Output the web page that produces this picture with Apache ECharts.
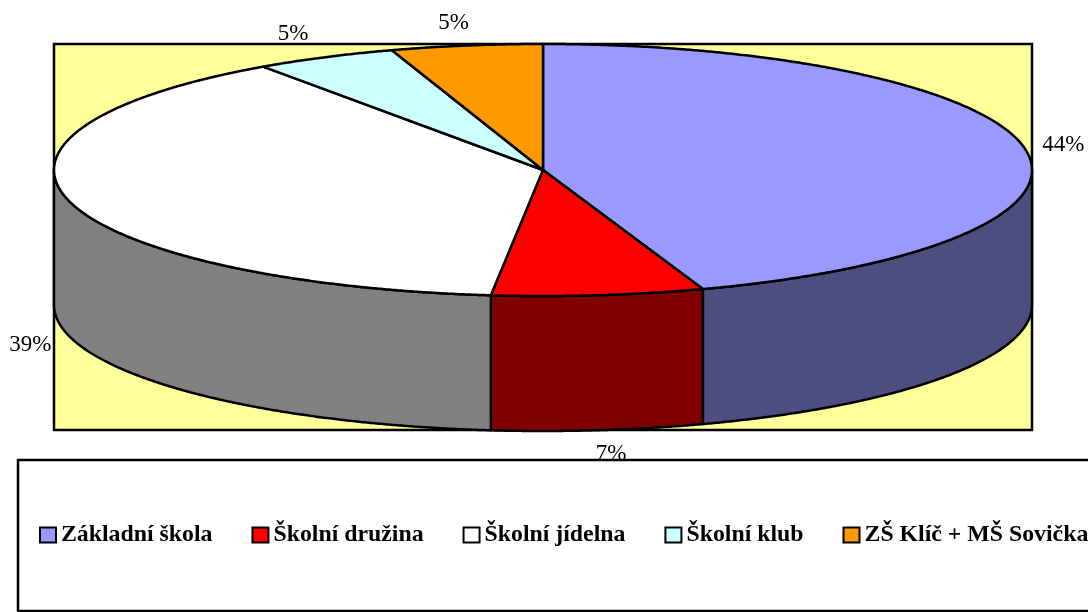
<!DOCTYPE html>
<html>
<head>
<meta charset="utf-8">
<style>html,body{margin:0;padding:0;background:#fff}#c{width:1088px;height:612px}</style>
<script src="https://cdn.jsdelivr.net/npm/echarts@6/dist/echarts.min.js"></script>
</head>
<body>
<div id="c"></div>
<script>
const names = ['Základní škola', 'Školní družina', 'Školní jídelna', 'Školní klub', 'ZŠ Klíč + MŠ Sovička'];
const values = [44.7, 7.0, 38.6, 4.7, 5.0];
const labels = ['44%', '7%', '39%', '5%', '5%'];
const topColors = ['#9999FF', '#FF0000', '#FFFFFF', '#CCFFFF', '#FF9900'];
const sideColors = ['#4D4D80', '#800000', '#808080', '#668080', '#804D00'];
// label offset from the rim point of each slice
const labelNudge = [[38, -4], [13, 24], [-39, 9], [-32, -23], [-13, -23]];

const cx = 543, cy = 170, rx = 489, ry = 126, depth = 135;
const total = values.reduce((a, b) => a + b, 0);

function rim(deg, dy){
  const t = deg * Math.PI / 180;
  return [cx + rx * Math.sin(t), cy - ry * Math.cos(t) + (dy || 0)];
}
function arc(a, b, dy){
  const pts = [];
  for (let d = a; d < b; d += 0.25) pts.push(rim(d, dy));
  pts.push(rim(b, dy));
  return pts;
}

function renderSlice(i){
  return function(params, api){
    const start = values.slice(0, i).reduce((a, b) => a + b, 0) / total * 360;
    const end = start + api.value(0) / total * 360;
    const mid = (start + end) / 2;
    const kids = [];
    const a = Math.max(start, 90), b = Math.min(end, 270);
    if (b > a) {
      kids.push({
        type: 'polygon', z2: 1,
        shape: { points: arc(a, b, 0).concat(arc(a, b, depth).reverse()) },
        style: { fill: sideColors[i], stroke: '#000', lineWidth: 2.5, lineJoin: 'round' }
      });
    }
    kids.push({
      type: 'polygon', z2: 2,
      shape: { points: [[cx, cy]].concat(arc(start, end, 0)) },
      style: { fill: topColors[i], stroke: '#000', lineWidth: 2.5, lineJoin: 'round' }
    });
    const front = mid > 90 && mid < 270;
    const p = rim(mid, front ? depth : 0);
    kids.push({
      type: 'text', z2: 3,
      style: {
        text: labels[i], x: p[0] + labelNudge[i][0], y: p[1] + labelNudge[i][1],
        fill: '#000', font: '23px "Liberation Serif"', align: 'center', verticalAlign: 'middle'
      }
    });
    return { type: 'group', children: kids };
  };
}

const c = echarts.init(document.getElementById('c'));
c.setOption({
  animation: false,
  graphic: [
    { type: 'rect', z: 0, shape: { x: 54, y: 44, width: 978, height: 386 },
      style: { fill: '#FFFF99', stroke: '#000', lineWidth: 2.5 } },
    { type: 'rect', z: 3, shape: { x: 18, y: 460, width: 1090, height: 151 },
      style: { fill: '#fff', stroke: '#000', lineWidth: 2.5 } }
  ],
  legend: {
    z: 4, left: 34, top: 518, width: 1200, itemGap: 39, itemWidth: 16, itemHeight: 15,
    icon: 'rect', selectedMode: false, data: names,
    textStyle: { fontFamily: 'Liberation Serif', fontWeight: 'bold', fontSize: 23.8, color: '#000' }
  },
  series: names.map((n, i) => ({
    type: 'custom', name: n, coordinateSystem: 'none', silent: true,
    itemStyle: { color: topColors[i], borderColor: '#000', borderWidth: 2.5 },
    renderItem: renderSlice(i),
    data: [[values[i]]]
  }))
});
</script>
</body>
</html>
